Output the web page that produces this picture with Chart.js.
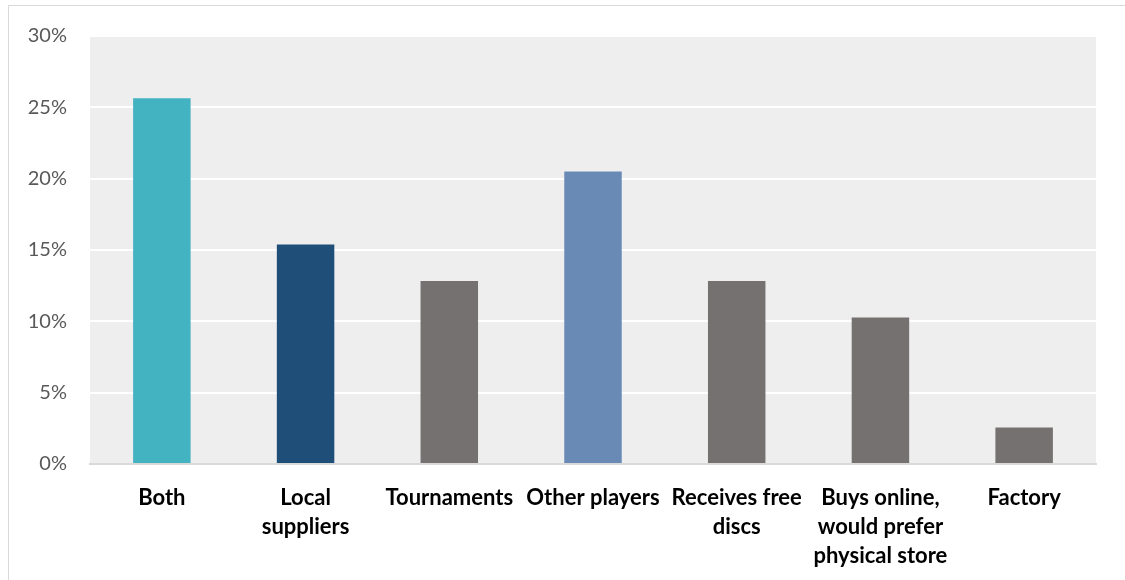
<!DOCTYPE html>
<html>
<head>
<meta charset="utf-8">
<script src="https://cdn.jsdelivr.net/npm/chart.js@4/dist/chart.umd.min.js"></script>
<style>
    body { margin: 0; background: #fff; }
    #wrap { position: relative; width: 1125px; height: 580px; }
    #frame {
        position: absolute; left: 8px; top: 5px; right: 0; bottom: 0;
        border-top: 1px solid #d9d9d9; border-left: 1px solid #d9d9d9;
    }
    canvas { position: absolute; left: 0; top: 0; }
</style>
</head>
<body>
<div id="wrap">
    <div id="frame"></div>
    <canvas id="sourceChart" width="1125" height="580"></canvas>
</div>
<script>
const categories = [
    'Both',
    ['Local', 'suppliers'],
    'Tournaments',
    'Other players',
    ['Receives free', 'discs'],
    ['Buys online,', 'would prefer', 'physical store'],
    'Factory'
];
const shares = [25.64, 15.38, 12.82, 20.51, 12.82, 10.26, 2.56];
const barColors = ['#43b2c1', '#1f4e79', '#767171', '#6a8ab6', '#767171', '#767171', '#767171'];
const yTicks = [0, 5, 10, 15, 20, 25, 30];

// grey panel behind the bars
const plotBackground = {
    id: 'plotBackground',
    beforeDraw(chart) {
        const { ctx, chartArea: a } = chart;
        ctx.save();
        ctx.fillStyle = '#eeeeee';
        ctx.fillRect(a.left, a.top, a.right - a.left, a.bottom - a.top);
        ctx.restore();
    }
};

const ctx = document.getElementById('sourceChart').getContext('2d');
new Chart(ctx, {
    type: 'bar',
    data: {
        labels: categories,
        datasets: [{
            data: shares,
            backgroundColor: barColors,
            barPercentage: 0.8,
            categoryPercentage: 0.5
        }]
    },
    options: {
        responsive: false,
        animation: false,
        layout: { padding: { left: 0, right: 29, top: 36, bottom: 0 } },
        plugins: {
            legend: { display: false },
            tooltip: { enabled: false }
        },
        scales: {
            x: {
                grid: { display: false },
                border: { display: true, color: '#d9d9d9', width: 2 },
                ticks: {
                    color: '#000',
                    font: { family: 'Lato', size: 22, weight: 'bold', lineHeight: 1.32 },
                    padding: 11,
                    maxRotation: 0,
                    autoSkip: false
                },
                afterFit(scale) { scale.height = 116; }
            },
            y: {
                min: 0,
                max: 30,
                afterBuildTicks(scale) { scale.ticks = yTicks.map(v => ({ value: v })); },
                grid: { color: '#ffffff', lineWidth: 2, drawTicks: false },
                border: { display: false },
                ticks: {
                    color: '#595959',
                    font: { family: 'Lato', size: 20 },
                    padding: 23,
                    callback: v => v + '%'
                },
                afterFit(scale) { scale.width = 90; }
            }
        }
    },
    plugins: [plotBackground]
});
</script>
</body>
</html>
